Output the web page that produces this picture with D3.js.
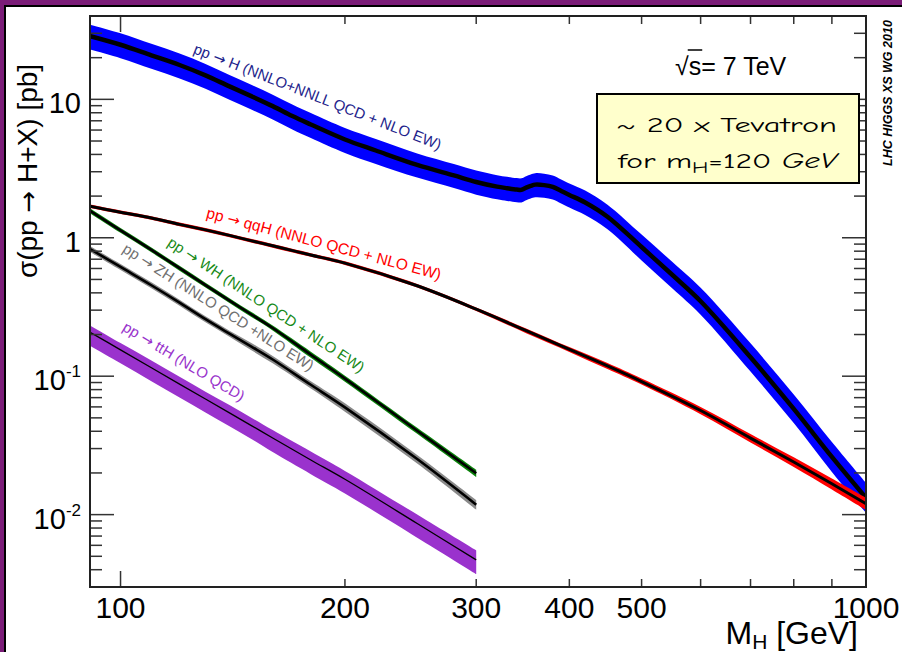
<!DOCTYPE html>
<html><head><meta charset="utf-8">
<script src="https://cdn.jsdelivr.net/npm/d3@7"></script>
<style>body{margin:0;background:#fff}svg{display:block}</style>
</head><body>
<svg id="c" width="902" height="652"></svg>
<script>
// ---------------- data ----------------
const massGGH = [90,100,110,120,130,140,150,160,170,180,200,220,250,280,300,320,330,340,345,350,355,360,370,380,390,400,420,450,500,550,600,700,800,900,1000];
const sigmaGGH = [29.1,24.8,20.8,17.7,14.9,12.4,10.5,8.93,7.57,6.58,5.13,4.27,3.36,2.82,2.53,2.34,2.28,2.23,2.22,2.30,2.37,2.42,2.40,2.33,2.18,2.04,1.80,1.42,0.857,0.538,0.348,0.137,0.058,0.0261,0.0132];
const errUpGGH = [21,21,21,21,21,21,21,21,21,21,21,21,21,21,21,21,21,21,21,21,21,21,21,21,21,21,22,22,23,24,25,26,27,28,28];
const errDnGGH = [20,20,20,20,20,20,20,20,20,20,20,20,19,19,19,19,19,19,19,19,19,19,19,19,19,19,19,19,20,20,20,21,21,22,22];

const massQQH = [90,100,110,120,130,140,150,160,180,200,250,300,350,400,450,500,600,700,800,900,1000];
const sigmaQQH = [1.71,1.53,1.39,1.25,1.14,1.04,0.95,0.875,0.751,0.656,0.450,0.305,0.213,0.156,0.1185,0.0915,0.0565,0.0357,0.0240,0.0167,0.0120];
const errQQH = [3,3,3,3,3,3,3,3,3,3,3,3,4,4,5,5,6,7,8,9,10];

const massVH = [90,100,110,120,130,140,150,160,180,200,250,300];
const sigmaWH = [1.63,1.13,0.817,0.603,0.455,0.352,0.278,0.223,0.143,0.0961,0.0404,0.0199];
const errWH = [4,4,4,4,4,4,4,4,5,5,5,6];
const sigmaZH = [0.861,0.615,0.454,0.340,0.258,0.203,0.163,0.132,0.0867,0.0596,0.0252,0.0118];
const errZH = [5,5,5,5,5,5,6,6,6,7,7,8];
const sigmaTTH = [0.215,0.155,0.115,0.0877,0.0684,0.0543,0.0438,0.0358,0.0248,0.0180,0.00863,0.00471];
const errUpTTH = [12,12,13,13,13,14,14,14,15,15,16,17];
const errDnTTH = [20,20,20,20,20,20,20,21,21,21,21,21];

const xTickVals = [100,200,300,400,500,600,700,800,900,1000];
const xLabelVals = [100,200,300,400,500,1000];
const yMajorVals = [0.01,0.1,1,10];
const yLabelBase = ["10","10","1","10"];
const yLabelExp = ["-2","-1","",""];

const seriesLabels = [
  {pre:"pp", post:" H (NNLO+NNLL QCD + NLO EW)", color:"#1f1f8c"},
  {pre:"pp", post:" qqH (NNLO QCD + NLO EW)", color:"#ff0000"},
  {pre:"pp", post:" WH (NNLO QCD + NLO EW)", color:"#178a17"},
  {pre:"pp", post:" ZH (NNLO QCD +NLO EW)", color:"#707070"},
  {pre:"pp", post:" ttH (NLO QCD)", color:"#9933cc"}
];
// ----------------------------------------------------------------

const W = 902, H = 652;
const svg = d3.select('#c');
const FONT = "'Liberation Sans', Arial, Helvetica, sans-serif";

svg.append('rect').attr('width', W).attr('height', H).attr('fill', '#7b1d78');
svg.append('rect').attr('x', 5).attr('y', 6).attr('width', W).attr('height', H)
  .attr('fill', '#fff').attr('stroke', '#000').attr('stroke-width', 2);

const L = 90, R = 866, T = 16, B = 587;
const x = d3.scaleLog().domain([91, 1000]).range([L, R]);
const y = d3.scaleLog().domain([0.003, 40]).range([B, T]);

svg.append('defs').append('clipPath').attr('id', 'clip')
  .append('rect').attr('x', L).attr('y', T).attr('width', R - L).attr('height', B - T);

const g = svg.append('g').attr('clip-path', 'url(#clip)');
const curve = d3.curveCatmullRom.alpha(0.5);

function drawSeries(mass, val, up, dn, bandColor, lineW) {
  const pts = mass.map((m, i) => ({m, v: val[i], u: val[i] * (1 + up[i] / 100), d: val[i] * (1 - dn[i] / 100)}));
  g.append('path').datum(pts)
    .attr('d', d3.area().x(d => x(d.m)).y0(d => y(d.d)).y1(d => y(d.u)).curve(curve))
    .attr('fill', bandColor);
  g.append('path').datum(pts)
    .attr('d', d3.line().x(d => x(d.m)).y(d => y(d.v)).curve(curve))
    .attr('fill', 'none').attr('stroke', '#000').attr('stroke-width', lineW).attr('stroke-linejoin', 'round');
}

drawSeries(massVH, sigmaTTH, errUpTTH, errDnTTH, '#9a32cd', 1.3);
drawSeries(massVH, sigmaZH, errZH, errZH, '#8a8a8a', 2.6);
drawSeries(massVH, sigmaWH, errWH, errWH, '#0a820a', 2.6);
drawSeries(massGGH, sigmaGGH, errUpGGH, errDnGGH, '#0000ff', 4.5);
drawSeries(massQQH, sigmaQQH, errQQH, errQQH, '#ff0000', 3);

// ---------- axes ----------
const ax = svg.append('g');
const yMinor = [];
[0.001, 0.01, 0.1, 1, 10].forEach(d => { for (let k = 2; k <= 9; k++) { const v = k * d; if (v >= 0.003 && v <= 40) yMinor.push(v); } });
yMinor.forEach(v => {
  ax.append('line').attr('x1', L).attr('x2', L + 12).attr('y1', y(v)).attr('y2', y(v)).attr('stroke', '#333').attr('stroke-width', 1.5);
  ax.append('line').attr('x1', R).attr('x2', R - 12).attr('y1', y(v)).attr('y2', y(v)).attr('stroke', '#333').attr('stroke-width', 1.5);
});
yMajorVals.forEach(v => {
  ax.append('line').attr('x1', L).attr('x2', L + 24).attr('y1', y(v)).attr('y2', y(v)).attr('stroke', '#333').attr('stroke-width', 1.5);
  ax.append('line').attr('x1', R).attr('x2', R - 24).attr('y1', y(v)).attr('y2', y(v)).attr('stroke', '#333').attr('stroke-width', 1.5);
});
xTickVals.forEach(v => {
  const len = (v === 100 || v === 1000) ? 16 : 8;
  ax.append('line').attr('x1', x(v)).attr('x2', x(v)).attr('y1', B).attr('y2', B - len).attr('stroke', '#333').attr('stroke-width', 1.5);
  ax.append('line').attr('x1', x(v)).attr('x2', x(v)).attr('y1', T).attr('y2', T + len).attr('stroke', '#333').attr('stroke-width', 1.5);
});
ax.append('rect').attr('x', L).attr('y', T).attr('width', R - L).attr('height', B - T)
  .attr('fill', 'none').attr('stroke', '#222').attr('stroke-width', 2);

// y labels
yMajorVals.forEach((v, i) => {
  const t = ax.append('text').attr('x', 81).attr('y', y(v) + 14).attr('text-anchor', 'end')
    .attr('font-family', FONT).attr('font-size', 29).attr('fill', '#000');
  t.append('tspan').text(yLabelBase[i]);
  if (yLabelExp[i]) t.append('tspan').attr('dy', -13).attr('font-size', 17).text(yLabelExp[i]);
});
// x labels
xLabelVals.forEach(v => {
  ax.append('text').attr('x', x(v)).attr('y', 618).attr('text-anchor', 'middle')
    .attr('font-family', FONT).attr('font-size', 30).attr('fill', '#000').text(v);
});
// x title
const xt = ax.append('text').attr('x', 858).attr('y', 644).attr('text-anchor', 'end')
  .attr('font-family', FONT).attr('font-size', 32).attr('fill', '#000');
xt.append('tspan').text('M');
xt.append('tspan').attr('dy', 5).attr('font-size', 21).text('H');
xt.append('tspan').attr('dy', -5).text(' [GeV]');
// y title
const yt = ax.append('text').attr('transform', 'translate(37,171) rotate(-90)').attr('text-anchor', 'middle')
  .attr('font-family', FONT).attr('font-size', 28).attr('fill', '#000');
yt.append('tspan').text('σ(pp ');
yt.append('tspan').attr('font-family', "'DejaVu Sans', sans-serif").attr('font-size', 26).text('→');
yt.append('tspan').text(' H+X) [pb]');

// sqrt(s) text
const st = svg.append('text').attr('x', 675).attr('y', 75).attr('font-family', FONT).attr('font-size', 25).attr('fill', '#000');
st.append('tspan').text('√');
st.append('tspan').text('s');
st.append('tspan').text('= 7 TeV');
const e = st.node().getExtentOfChar(1);
svg.append('line').attr('x1', e.x - 1).attr('x2', e.x + e.width + 1).attr('y1', 50).attr('y2', 50).attr('stroke', '#000').attr('stroke-width', 1.5);

// yellow box
svg.append('rect').attr('x', 597).attr('y', 94).attr('width', 262).attr('height', 89)
  .attr('fill', '#ffffcc').attr('stroke', '#000').attr('stroke-width', 2);
const CF = "'Comic Sans MS', 'Comic Neue', 'DejaVu Sans', sans-serif";
svg.append('text').attr('x', 616).attr('y', 132).attr('font-family', CF).attr('font-size', 21)
  .attr('textLength', 221).attr('lengthAdjust', 'spacingAndGlyphs').attr('fill', '#000').text('~ 20 x Tevatron');
const b2 = svg.append('text').attr('x', 618).attr('y', 168).attr('font-family', CF).attr('font-size', 21)
  .attr('textLength', 219).attr('lengthAdjust', 'spacingAndGlyphs').attr('fill', '#000');
b2.append('tspan').text('for m');
b2.append('tspan').attr('dy', 5).attr('font-size', 15).text('H');
b2.append('tspan').attr('dy', -5).text('=120 ');
b2.append('tspan').attr('font-style', 'italic').text('GeV');

// watermark
svg.append('text').attr('transform', 'translate(892,166) rotate(-90)').attr('font-family', FONT)
  .attr('font-size', 12.5).attr('font-weight', 'bold').attr('font-style', 'italic').attr('fill', '#000')
  .text('LHC HIGGS XS WG 2010');

// curve labels
const labelPos = [[192.6, 53, 21.5], [205.6, 217.5, 14.9], [166.6, 245, 33.5], [121.6, 251.5, 32.5], [121.5, 330, 31]];
const labelSize = [15, 15.5, 15, 15, 15];
seriesLabels.forEach((s, i) => {
  const [px, py, ang] = labelPos[i];
  const t = svg.append('text').attr('transform', `translate(${px},${py}) rotate(${ang})`)
    .attr('font-family', FONT).attr('font-size', labelSize[i]).attr('fill', s.color);
  t.append('tspan').text(s.pre + ' ');
  t.append('tspan').attr('font-family', "'DejaVu Sans', sans-serif").attr('font-size', 15).text('→');
  t.append('tspan').text(s.post);
});
</script>
</body></html>
